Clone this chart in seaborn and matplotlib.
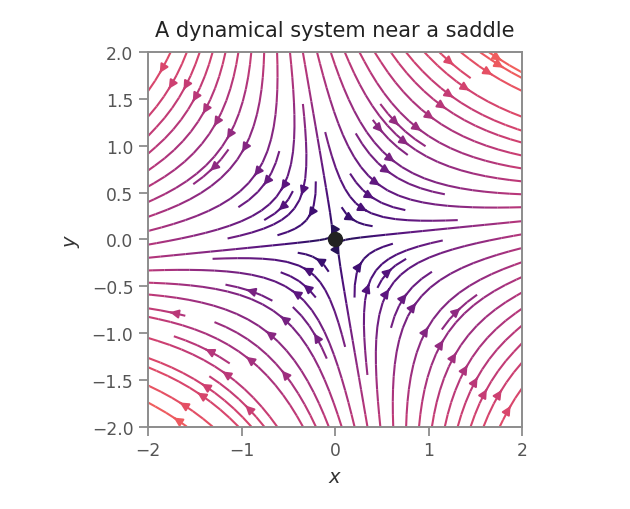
import numpy as np
import matplotlib
matplotlib.use("Agg")
import matplotlib.pyplot as plt
import seaborn as sns
from matplotlib.colors import Normalize

# --- data: linear vector field near a saddle point ---
x_range = [-2.0, 2.0]
y_range = [-2.0, 2.0]
n_grid = 100
# u = a*x + b*y ; v = c*x + d*y
coef_u = [1.0, 0.35]
coef_v = [0.2, -1.0]
saddle_point = [0.0, 0.0]
x_ticks = [-2, -1, 0, 1, 2]
y_ticks = [-2.0, -1.5, -1.0, -0.5, 0.0, 0.5, 1.0, 1.5, 2.0]
title = "A dynamical system near a saddle"

sns.set_theme(style="ticks")
plt.rcParams["font.family"] = ["DejaVu Sans"]

xs = np.linspace(x_range[0], x_range[1], n_grid)
ys = np.linspace(y_range[0], y_range[1], n_grid)
X, Y = np.meshgrid(xs, ys)
U = coef_u[0] * X + coef_u[1] * Y
V = coef_v[0] * X + coef_v[1] * Y
speed = np.hypot(U, V)

fig = plt.figure(figsize=(6.3, 5.1), dpi=100)
ax = fig.add_axes([0.235, 0.161, 0.594, 0.735])

cmap = sns.color_palette("magma", as_cmap=True)
norm = Normalize(vmin=-0.8, vmax=4.8)
ax.streamplot(X, Y, U, V, color=speed, cmap=cmap, norm=norm,
              density=1.0, linewidth=1.5, arrowsize=1.25)
ax.plot(saddle_point[0], saddle_point[1], "o", color="#222222",
        markersize=10, zorder=5)

ax.set_xlim(x_range)
ax.set_ylim(y_range)
ax.set_aspect("equal")
ax.set_xticks(x_ticks)
ax.set_yticks(y_ticks)
ax.set_xticklabels([f"{t:g}".replace("-", "\u2212") for t in x_ticks])
ax.set_yticklabels([f"{t:.1f}".replace("-", "\u2212") for t in y_ticks])

for s in ax.spines.values():
    s.set_color("#8c8c8c")
    s.set_linewidth(1.4)
ax.tick_params(colors="#8c8c8c", labelcolor="#555555", labelsize=12.3,
               length=6.5, width=1.3, direction="out", pad=4)
ax.set_xlabel("$x$", fontsize=14, color="#333333", labelpad=6)
ax.set_ylabel("$y$", fontsize=14, color="#333333", labelpad=7)
ax.set_title(title, fontsize=15, color="#222222", pad=12)

fig.savefig("out.png", dpi=100)
